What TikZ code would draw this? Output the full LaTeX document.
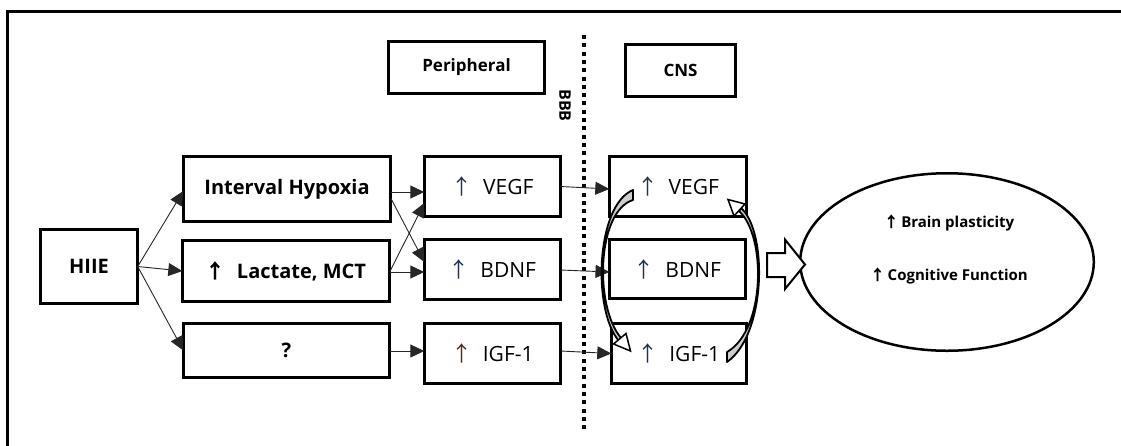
\documentclass[tikz,border=0pt]{standalone}
\usepackage{fontspec}
\setmainfont{Open Sans}
\newfontfamily\arrf{Noto Sans CJK KR}
\usetikzlibrary{arrows.meta,calc,shapes.geometric}
\definecolor{arrnavy}{HTML}{1F3050}
\definecolor{arrbrown}{HTML}{5A2A1A}
\newcommand\myup[1][black]{{\arrf\color{#1}↑}}
\tikzset{
  box/.style={draw, line width=2.6pt, inner sep=0pt, outer sep=0pt, align=center},
  bigbold/.style={font=\bfseries\fontsize{20}{24}\selectfont},
  bigreg/.style={font=\fontsize{21}{24}\selectfont},
  hdr/.style={font=\bfseries\fontsize{17}{20}\selectfont},
  outtxt/.style={font=\bfseries\fontsize{15}{18}\selectfont, inner sep=0pt},
  conn/.style={draw=black!85, line width=0.9pt, -{Triangle[length=14pt,width=13pt]}},
  curv/.style={draw, line width=1.8pt, fill=gray!40, line join=round},
  headst/.style={draw, line width=1.5pt, fill=white, line join=miter},
}
\begin{document}
\begin{tikzpicture}[x=1pt,y=-1pt]
\useasboundingbox (0,0) rectangle (1121,445);
\fill[white] (0,0) rectangle (1121,445);
% frame
\begin{scope}
\clip (0,0) rectangle (1121,445);
\draw[line width=3pt] (1130,11) -- (7.3,11) -- (7.3,460);
\end{scope}
% headers
\node[box, hdr, minimum width=156.4pt, minimum height=52.4pt] (per) at (466.5,67.5) {Peripheral};
\node[box, hdr, minimum width=110.4pt, minimum height=52.4pt] (cns) at (680.5,70.5) {CNS};
% BBB
\coordinate (bbbtop) at (583.5,35);
\coordinate (bbbbot) at (583.5,432);
\draw[line width=4pt, dash pattern=on 4pt off 4.3pt] (bbbtop) -- (bbbbot);
\node[rotate=-90, font=\bfseries\fontsize{16}{18}\selectfont, inner sep=0pt] (bbb) at (565,105.5) {BBB};
% left boxes
\node[box, bigbold, minimum width=97.4pt, minimum height=74.4pt] (hiie) at (89,266.5) {HIIE};
\node[box, bigbold, minimum width=207.4pt, minimum height=65.4pt] (ih) at (287,189) {Interval Hypoxia};
\node[box, bigbold, minimum width=207.4pt, minimum height=61.4pt] (lac) at (286,271) {\myup\hspace{0.55em}Lactate, MCT};
\node[box, bigbold, minimum width=206.4pt, minimum height=54.4pt] (q) at (286.5,350.5) {?};
% peripheral factors
\node[box, bigreg, minimum width=136.4pt, minimum height=60.4pt] (pv) at (492.5,186.5) {\myup[arrnavy]\hspace{0.5em}VEGF};
\node[box, bigreg, minimum width=136.4pt, minimum height=60.4pt] (pb) at (492.5,269.5) {\myup[arrnavy]\hspace{0.5em}BDNF};
\node[box, bigreg, minimum width=136.4pt, minimum height=60.4pt] (pi) at (492.5,353.5) {\myup[arrbrown]\hspace{0.5em}IGF-1};
% CNS factors
\node[box, bigreg, minimum width=137.4pt, minimum height=60.4pt] (cv) at (678,186.5) {\myup[arrnavy]\hspace{0.5em}VEGF};
\node[box, bigreg, line width=3.2pt, minimum width=136pt, minimum height=59pt] (cb) at (677.5,269) {\myup[arrnavy]\hspace{0.5em}BDNF};
\node[box, bigreg, minimum width=135.4pt, minimum height=60.4pt] (ci) at (679,353.5) {\myup[arrnavy]\hspace{0.5em}IGF-1};
% outcome ellipse
\node[ellipse, draw, line width=2.5pt, minimum width=293.6pt, minimum height=177.5pt, inner sep=0pt] (out) at (947,262) {};
\node[outtxt] (t1) at (949,223) {\myup\,Brain plasticity};
\node[outtxt] (t2) at (949,276) {\myup\,Cognitive Function};
% connectors HIIE -> mediators
\draw[conn] (hiie.east) -- ([yshift=-2pt]ih.west);
\draw[conn] (hiie.east) -- (lac.west);
\draw[conn] (hiie.east) -- (q.west);
% mediators -> peripheral factors
\draw[conn] ([yshift=-3pt]ih.east) -- ([yshift=-5.5pt]pv.west);
\draw[conn] ([yshift=-9pt]ih.east) -- ([yshift=7.5pt]pb.west);
\draw[conn] ([yshift=-1pt]lac.east) -- ([yshift=-16.5pt]pv.west);
\draw[conn] ([yshift=-1pt]lac.east) -- ([yshift=-2.5pt]pb.west);
\draw[conn] ([yshift=-0.5pt]q.east) -- ([yshift=2.5pt]pi.west);
% across BBB
\draw[conn] (pv.east) -- ([yshift=-2.5pt]cv.west);
\draw[conn] ([yshift=-0.5pt]pb.east) -- ([yshift=-3pt]cb.west);
\draw[conn] ([yshift=2.5pt]pi.east) -- (ci.west);
% curved arrows in CNS
\filldraw[curv] (633,190) .. controls (596,205) and (592,310) .. (619,341)
   -- (621,338) .. controls (594,306) and (597,211) .. (633,200) -- cycle;
\filldraw[headst] (626,333.5) -- (630.5,351) -- (613.5,344) -- cycle;
\filldraw[curv] (727,362) .. controls (766,335) and (768,232) .. (741,208)
   -- (739,211) .. controls (766.5,236) and (765.5,330) .. (727,352) -- cycle;
\filldraw[headst] (745,204) -- (728,199.5) -- (734,216) -- cycle;
% block arrow into ellipse
\filldraw[draw, fill=white, line width=2pt, line join=miter]
  (767,253) -- (785,253) -- (785,239.5) -- (805,264.5) -- (785,289) -- (785,277) -- (767,277) -- cycle;
\end{tikzpicture}
\end{document}
